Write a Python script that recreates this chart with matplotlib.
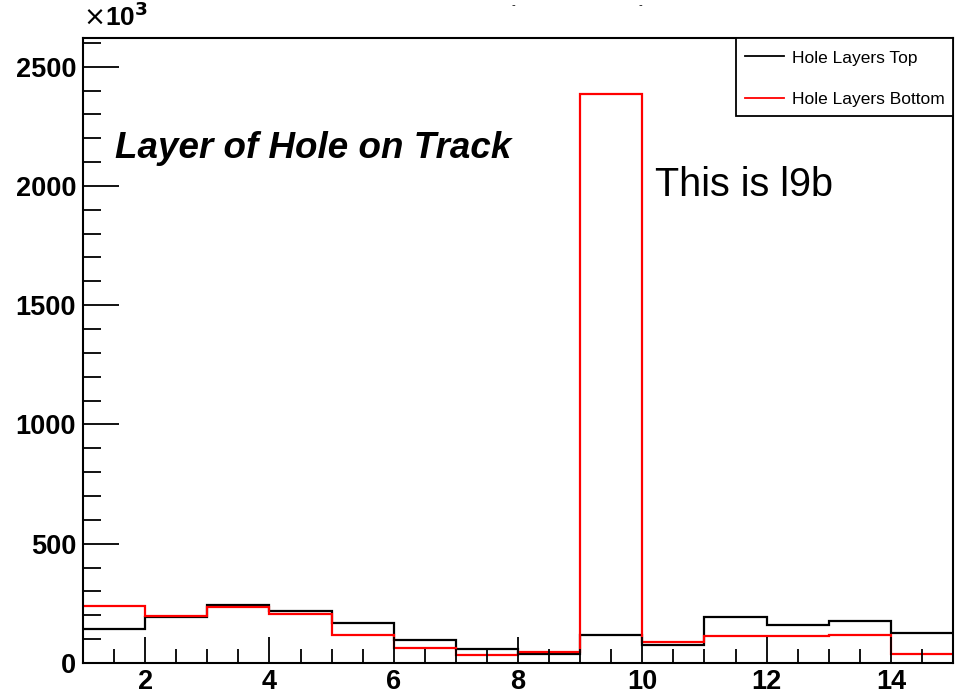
import numpy as np
import matplotlib
matplotlib.use("Agg")
import matplotlib.pyplot as plt
from matplotlib.ticker import MultipleLocator, FuncFormatter
from matplotlib.patches import Rectangle

# Histogram bins: layer index 1..15, unit-width bins
bin_edges = list(range(1, 16))

# Counts per bin in thousands (x10^3)
hole_layers_top = [144, 193, 242, 219, 169, 95, 60, 38, 116, 75, 194, 159, 175, 126]
hole_layers_bottom = [239, 198, 233, 205, 117, 64, 35, 44, 2385, 88, 112, 113, 116, 38]

series_labels = ["Hole Layers Top", "Hole Layers Bottom"]
series_colors = ["black", "red"]

plt.rcParams["font.family"] = ["Liberation Sans", "DejaVu Sans"]

fig = plt.figure(figsize=(9.61, 6.94), dpi=100)
ax = fig.add_axes([0.0864, 0.0447, 0.9053, 0.9005])

for vals, lab, col in zip([hole_layers_top, hole_layers_bottom], series_labels, series_colors):
    ax.stairs(vals, bin_edges, color=col, lw=1.6, label=lab, baseline=None)

ax.set_xlim(1, 15)
ax.set_ylim(0, 2620)

ax.xaxis.set_major_locator(MultipleLocator(2))
ax.xaxis.set_minor_locator(MultipleLocator(0.5))
ax.yaxis.set_major_locator(MultipleLocator(500))
ax.yaxis.set_minor_locator(MultipleLocator(100))
ax.xaxis.set_major_formatter(FuncFormatter(lambda v, p: f"{v:g}"))
ax.yaxis.set_major_formatter(FuncFormatter(lambda v, p: f"{v:g}"))

ax.tick_params(axis="both", which="both", direction="in", width=1.3, colors="black")
ax.tick_params(axis="x", which="major", length=19, pad=4)
ax.tick_params(axis="x", which="minor", length=10)
ax.tick_params(axis="y", which="major", length=26, pad=5)
ax.tick_params(axis="y", which="minor", length=13)
for lab in ax.get_xticklabels() + ax.get_yticklabels():
    lab.set_fontsize(19.5)
    lab.set_fontweight("bold")

for sp in ax.spines.values():
    sp.set_linewidth(1.5)

# Axis multiplier above the y axis
fig.text(0.0864, 0.955, r"$\times$10$^{\mathbf{3}}$", fontsize=19, fontweight="bold",
         ha="left", va="bottom")

# Clipped remains of the histogram title along the top edge
fig.text(0.534, 0.993, "-", fontsize=8, ha="center", va="center")
fig.text(0.666, 0.993, "-", fontsize=8, ha="center", va="center")

ax.text(0.037, 0.808, "Layer of Hole on Track", transform=ax.transAxes,
        fontsize=26.5, fontweight="bold", fontstyle="italic", ha="left", va="baseline")
ax.text(0.658, 0.748, "This is l9b", transform=ax.transAxes,
        fontsize=28.5, ha="left", va="baseline")

# Legend box drawn as a plain frame in the upper-right corner
ax.add_patch(Rectangle((0.7506, 0.875), 0.2494, 0.125, transform=ax.transAxes,
                       facecolor="white", edgecolor="black", lw=1.3, zorder=4,
                       clip_on=False))
leg = ax.legend(loc="upper right", bbox_to_anchor=(1.0, 0.993), borderaxespad=0,
                fontsize=12.5, frameon=False, handlelength=2.2,
                handletextpad=0.5, labelspacing=1.5, borderpad=0.46)
leg.set_zorder(5)
for h in leg.get_lines():
    h.set_linewidth(1.3)

fig.savefig("out.png", dpi=100)
